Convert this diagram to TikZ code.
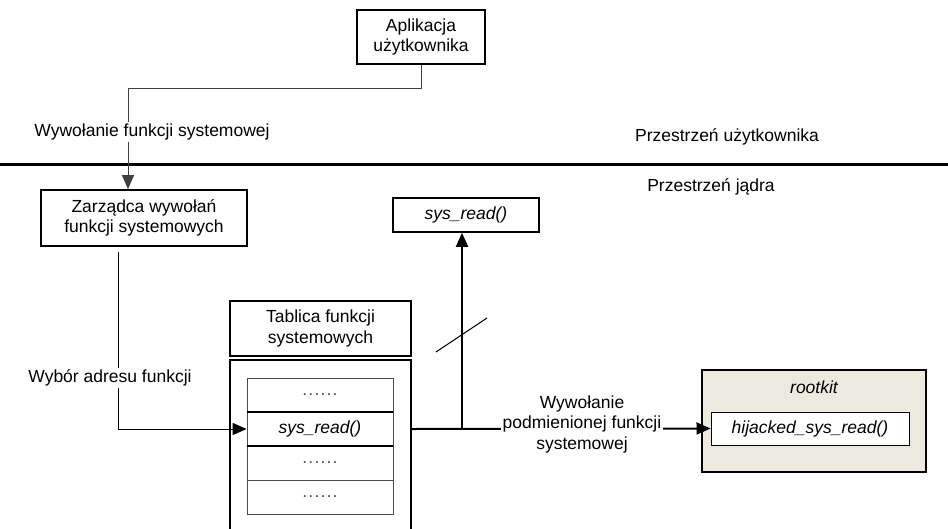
\documentclass[tikz,border=0pt]{standalone}
\usepackage{fontspec}
\setmainfont{Liberation Sans}
\usetikzlibrary{arrows.meta}
\definecolor{rkfill}{RGB}{236,233,222}

\begin{document}
\begin{tikzpicture}[x=1pt,y=-1pt,
    font=\fontsize{17.5}{20.5}\selectfont,
    box/.style={draw,line width=1.6pt,align=center,inner sep=0pt},
    row/.style={draw=black!70,line width=0.8pt,minimum width=146pt,minimum height=34pt,inner sep=0pt},
    conn/.style={line width=2pt,-{Triangle[length=14pt,width=12pt]}},
    thinconn/.style={line width=1pt,-{Triangle[length=14pt,width=12pt]}},
    lbl/.style={fill=white,align=center,inner sep=2pt}]
                        \useasboundingbox (0,0) rectangle (948,528);
                        % granica przestrzeni
                        \draw[line width=3pt] (0,164) -- (948,164);
                        \node (us) at (727,137) {Przestrzeń użytkownika};
                        \node (ks) at (711,187) {Przestrzeń jądra};
                        % bloki
                        \node[box,minimum width=128pt,minimum height=54pt] (app) at (421,37) {Aplikacja\\użytkownika};
                        \node[box,minimum width=206pt,minimum height=56pt] (mgr) at (144,218) {Zarządca wywołań\\funkcji systemowych};
                        \node[box,minimum width=146pt,minimum height=34pt] (sysr) at (466,215) {\textit{sys\_read()}};
                        \node[box,minimum width=181pt,minimum height=55pt] (tabl) at (320.5,328.5) {Tablica funkcji\\systemowych};
                        \draw[line width=1.6pt] (230,530) -- (230,360) -- (411,360) -- (411,530);
                        \foreach \i/\y in {1/395,3/463,4/497}
                            \node[row,text=black!70] (r\i) at (320,\y) {.\hspace{1.2pt}.\hspace{1.2pt}.\hspace{1.2pt}.\hspace{1.2pt}.\hspace{1.2pt}.};
                        \node[row] (r2) at (320,429) {\textit{sys\_read()}};
                        \draw[line width=2pt] (r2.north west) -- (r2.north east) (r2.south west) -- (r2.south east);
                        \node[box,fill=rkfill,minimum width=224pt,minimum height=102pt] (rk) at (814,421) {};
                        \node[font=\fontsize{17.5}{20.5}\selectfont\itshape] (rkl) at (814,387) {rootkit};
                        \node[box,fill=white,line width=1pt,minimum width=198pt,minimum height=33pt] (hij) at (810,428.5) {\textit{hijacked\_sys\_read()}};
                        % polaczenia
                        \coordinate (c1) at (128,88);
                        \draw[thinconn,draw=black!75] (app.south) |- (c1) -- (c1 |- mgr.north);
                        \node[lbl] (l1) at (152,132) {Wywołanie funkcji systemowej};
                        \draw[thinconn] ([xshift=-26pt,yshift=-5pt]mgr.south) |- (r2.west);
                        \node[lbl] (l2) at (110,378) {Wybór adresu funkcji};
                        \coordinate (tout) at (411,429);
                        \coordinate (jn) at (462,429);
                        \draw[conn] (tout) -- (hij.west);
                        \draw[conn] (jn) -- (jn |- sysr.south);
                        \draw[line width=1pt] (436,352) -- (487,318);
                        \node[lbl] (l3) at (582,424) {Wywołanie\\podmienionej funkcji\\systemowej};
                    \end{tikzpicture}
\end{document}
